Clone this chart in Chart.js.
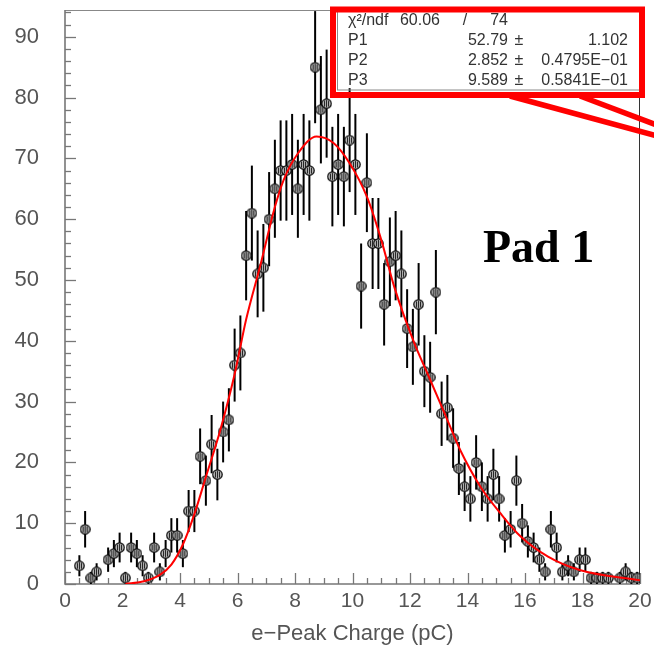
<!DOCTYPE html>
<html><head><meta charset="utf-8">
<script src="https://cdn.jsdelivr.net/npm/chart.js@4.4.1/dist/chart.umd.min.js"></script>
<style>html,body{margin:0;padding:0;background:#fff;overflow:hidden}#wrap{width:654px;height:649px;position:relative}</style>
</head><body><div id="wrap"><canvas id="c" width="654" height="649"></canvas></div>
<script>
// Histogram binning (100 bins of 0.2 pC from 0 to 20)
const binLow = 0, binWidth = 0.2;
// Bin contents (bin 0 .. bin 99)
const counts = [
  0, 0, 3, 9, 1, 2, 0, 4, 5, 6,
  1, 6, 5, 3, 1, 6, 2, 5, 8, 8,
  5, 12, 12, 21, 17, 23, 18, 25, 27, 36,
  38, 54, 61, 51, 52, 60, 65, 68, 68, 69,
  65, 69, 68, 85, 78, 79, 67, 69, 67, 73,
  69, 49, 66, 56, 56, 46, 53, 54, 51, 42,
  39, 46, 35, 34, 48, 28, 29, 24, 19, 16,
  14, 20, 16, 14, 18, 14, 8, 9, 17, 10,
  7, 6, 4, 2, 9, 6, 2, 3, 2, 4,
  4, 1, 1, 1, 1, 0, 1, 2, 1, 1
];
// Fit curve
const fitX = [2.1, 2.7, 3.3, 3.7, 4.1, 4.5, 4.9, 5.4, 5.9, 6.3, 6.8, 7.3, 7.6, 8.1, 8.75, 9.35, 9.9, 10.5, 11.0, 11.45, 12.15, 12.6, 13.2, 13.75, 14.45, 15.15, 15.85, 16.8, 17.9, 20.0];
const fitY = [0, 0.4, 1.5, 3.2, 6.5, 11.5, 17.6, 25.3, 34.5, 43.5, 52.5, 62, 66.4, 70.8, 73.6, 72.5, 69.2, 63.7, 56.6, 48.9, 39.6, 34.7, 28.1, 22.0, 16.0, 11.6, 7.8, 4.5, 2.3, 0.6];
// Stats box
const statNames = ["P1", "P2", "P3"];
const statValues = ["52.79", "2.852", "9.589"];
const statErrors = ["1.102", "0.4795E\u221201", "0.5841E\u221201"];
const chi2 = "60.06", ndf = "74";
const xTitle = "e\u2212Peak Charge (pC)";
const padLabel = "Pad 1";

const FONT = '"Liberation Sans", Arial, sans-serif';

// marker image
const mk = document.createElement('canvas'); mk.width = 11; mk.height = 11;
(function(){
  const m = mk.getContext('2d');
  m.beginPath(); m.arc(5.5,5.5,4.7,0,2*Math.PI); m.fillStyle='#c4c4c4'; m.fill();
  m.save(); m.beginPath(); m.arc(5.5,5.5,3.6,0,2*Math.PI); m.clip();
  m.strokeStyle='#111'; m.lineWidth=1;
  for (const dx of [-2, 0, 2]) { m.beginPath(); m.moveTo(5.5+dx,0); m.lineTo(5.5+dx,11); m.stroke(); }
  m.restore();
  m.beginPath(); m.arc(5.5,5.5,4.7,0,2*Math.PI); m.strokeStyle='#000'; m.lineWidth=1.2; m.stroke();
})();

const points = counts.map((c,k)=>({x: binLow + binWidth*(k+0.5), y: c})).filter(p=>p.y>0);
const fitData = fitX.map((x,i)=>({x, y: fitY[i]}));

const rootPlugin = {
  id: 'rootStyle',
  beforeDatasetsDraw(chart) {
    const {ctx, chartArea: a, scales: {x, y}} = chart;
    ctx.save();
    // frame
    ctx.strokeStyle = '#888'; ctx.lineWidth = 1;
    ctx.beginPath(); ctx.moveTo(a.left, a.top+0.5); ctx.lineTo(a.right, a.top+0.5); ctx.stroke();
    ctx.strokeStyle = '#333';
    ctx.beginPath(); ctx.moveTo(a.right-0.5, a.top); ctx.lineTo(a.right-0.5, a.bottom); ctx.stroke();
    // axes
    ctx.strokeStyle = '#777'; ctx.lineWidth = 1.6;
    ctx.beginPath(); ctx.moveTo(a.left, a.top); ctx.lineTo(a.left, a.bottom); ctx.lineTo(a.right, a.bottom); ctx.stroke();
    ctx.lineWidth = 1.3;
    // y ticks
    for (let v = 0; v <= y.max + 1e-6; v += 2) {
      const py = Math.round(y.getPixelForValue(v)) + 0.5;
      const len = (v % 10 === 0) ? 11 : 6;
      ctx.beginPath(); ctx.moveTo(a.left, py); ctx.lineTo(a.left + len, py); ctx.stroke();
    }
    // x ticks
    for (let v = 0; v <= 20 + 1e-6; v += 0.5) {
      const px = Math.round(x.getPixelForValue(v)) + 0.5;
      const len = (Math.abs(v % 2) < 1e-6) ? 11 : 6;
      ctx.beginPath(); ctx.moveTo(px, a.bottom); ctx.lineTo(px, a.bottom - len); ctx.stroke();
    }
    // error bars
    ctx.save();
    ctx.beginPath(); ctx.rect(a.left, a.top, a.right - a.left, a.bottom - a.top); ctx.clip();
    ctx.strokeStyle = '#000'; ctx.lineWidth = 2;
    for (const p of points) {
      const e = Math.sqrt(p.y);
      const px = x.getPixelForValue(p.x);
      ctx.beginPath();
      ctx.moveTo(px, y.getPixelForValue(p.y - e));
      ctx.lineTo(px, y.getPixelForValue(p.y + e));
      ctx.stroke();
    }
    ctx.restore();
    ctx.restore();
  },
  afterDraw(chart) {
    const {ctx} = chart;
    ctx.save();
    // stats box
    ctx.strokeStyle = '#888'; ctx.lineWidth = 1;
    ctx.strokeRect(337.5, 10.5, 302, 79.5);
    ctx.fillStyle = '#333';
    ctx.font = '16px ' + FONT;
    ctx.textBaseline = 'middle';
    ctx.textAlign = 'left';
    ctx.fillText('\u03C7\u00B2/ndf', 348, 21);
    ctx.textAlign = 'right';
    ctx.fillText(chi2, 440, 21);
    ctx.textAlign = 'center';
    ctx.fillText('/', 465, 21);
    ctx.textAlign = 'right';
    ctx.fillText(ndf, 508, 21);
    const rowsY = [41, 61, 81];
    for (let i = 0; i < statNames.length; i++) {
      ctx.textAlign = 'left';
      ctx.fillText(statNames[i], 348, rowsY[i]);
      ctx.textAlign = 'right';
      ctx.fillText(statValues[i], 508, rowsY[i]);
      ctx.textAlign = 'center';
      ctx.fillText('\u00B1', 519, rowsY[i]);
      ctx.textAlign = 'right';
      ctx.fillText(statErrors[i], 628, rowsY[i]);
    }
    // red highlight box + callout lines
    ctx.strokeStyle = '#ff0000';
    ctx.lineWidth = 6;
    ctx.strokeRect(333, 9.5, 309, 85.5);
    ctx.lineWidth = 5.5;
    ctx.beginPath(); ctx.moveTo(510, 96); ctx.lineTo(670, 139.5); ctx.stroke();
    ctx.beginPath(); ctx.moveTo(580, 96); ctx.lineTo(670, 130); ctx.stroke();
    // Pad label
    ctx.fillStyle = '#000';
    ctx.font = 'bold 46px "Liberation Serif", "Times New Roman", serif';
    ctx.textAlign = 'left';
    ctx.textBaseline = 'alphabetic';
    ctx.fillText(padLabel, 483, 262);
    ctx.restore();
  }
};

new Chart(document.getElementById('c'), {
  type: 'scatter',
  data: {
    datasets: [
      {
        type: 'line',
        data: fitData,
        borderColor: '#ff0000',
        borderWidth: 2,
        pointRadius: 0,
        fill: false,
        cubicInterpolationMode: 'monotone'
      },
      {
        data: points,
        showLine: false,
        pointStyle: mk,
        pointRadius: 5,
        pointHoverRadius: 5
      }
    ]
  },
  options: {
    responsive: false,
    animation: false,
    devicePixelRatio: 1,
    events: [],
    layout: { padding: { top: 10, right: 14, left: 0, bottom: 0 } },
    plugins: { legend: { display: false }, tooltip: { enabled: false } },
    scales: {
      x: {
        type: 'linear', position: 'bottom', min: 0, max: 20,
        afterFit(s) { s.height = 65; s.paddingLeft = 0; s.paddingRight = 0; s.paddingTop = 0; s.paddingBottom = 0; },
        grid: { display: false, drawTicks: false },
        border: { display: false },
        ticks: { stepSize: 2, includeBounds: false, autoSkip: false, maxRotation: 0,
                 padding: 5, color: '#555', font: { family: FONT, size: 21 } },
        title: { display: true, text: xTitle, color: '#555', font: { family: FONT, size: 22 },
                 padding: { top: 0, bottom: 2 } }
      },
      y: {
        type: 'linear', min: 0, max: 94.4,
        afterFit(s) { s.width = 65; s.paddingLeft = 0; s.paddingRight = 0; s.paddingTop = 0; s.paddingBottom = 0; },
        grid: { display: false, drawTicks: false },
        border: { display: false },
        ticks: { stepSize: 10, includeBounds: false, padding: 26, color: '#555',
                 font: { family: FONT, size: 22 },
                 callback: v => (v % 10 === 0 ? String(v) : '') }
      }
    }
  },
  plugins: [rootPlugin]
});
</script>
</body></html>
